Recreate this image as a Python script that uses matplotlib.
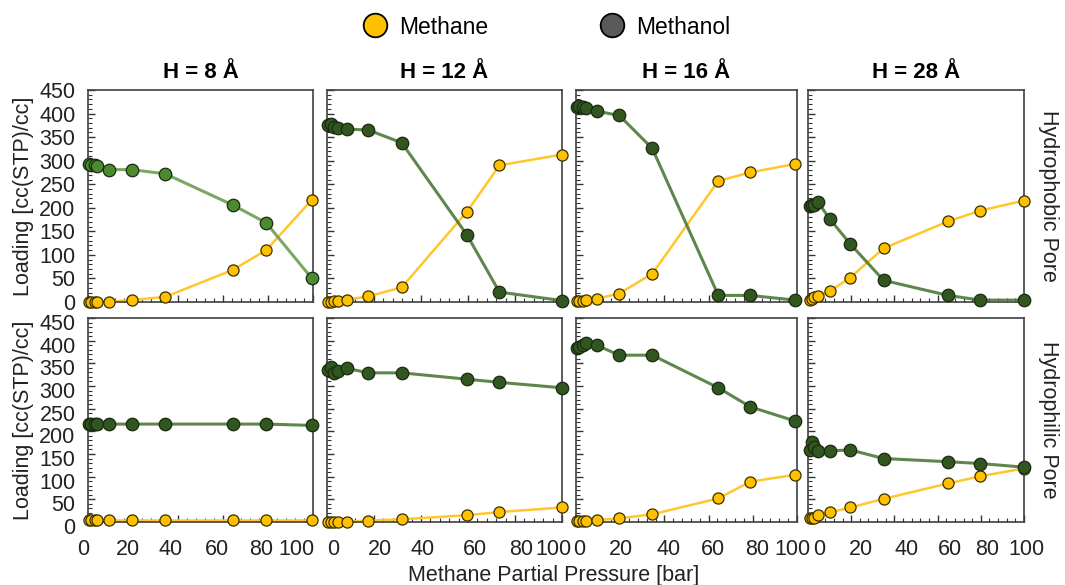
import numpy as np
import matplotlib.pyplot as plt
import matplotlib.transforms as mtransforms
from matplotlib.lines import Line2D
from matplotlib.ticker import MultipleLocator

plt.rcParams['font.family'] = ['Liberation Sans', 'DejaVu Sans']

titles = ['H = 8 Å', 'H = 12 Å', 'H = 16 Å', 'H = 28 Å']
rows = ['Hydrophobic Pore', 'Hydrophilic Pore']
xticks = [0, 20, 40, 60, 80, 100]

# pressures [bar], one list per pore width
p8 = [0.4, 1.5, 3, 4.2, 9.4, 19.4, 34.4, 64.3, 79.2, 99.5]
p12 = [0.4, 1.5, 3, 4.5, 8.4, 17.6, 31.8, 59.6, 73.4, 100]
p16 = [0.3, 1.5, 3, 4.5, 9.3, 19.6, 34.5, 64.4, 78.9, 99]
p28 = [1, 2, 3, 4.6, 10.1, 19.6, 35.0, 64.8, 79.8, 99.8]

# hydrophobic pore
phob_ch4 = [
    [0, 0, 0, 0, 1, 4, 11, 68, 110, 217],
    [0, 1, 2, 3, 5, 12, 31, 192, 290, 313],
    [2, 3, 3, 4, 7, 18, 60, 257, 275, 293],
    [5, 7, 10, 12, 23, 52, 114, 171, 194, 215],
]
phob_meoh = [
    [292, 291, 290, 289, 281, 281, 272, 206, 168, 50],
    [375, 378, 372, 370, 367, 365, 338, 142, 21, 3],
    [413, 417, 414, 411, 405, 396, 326, 14, 14, 4],
    [203, 206, 206, 212, 176, 123, 46, 14, 4, 4],
]

# hydrophilic pore
phil_ch4 = [
    [4, 4, 4, 4, 4, 4, 4, 4, 4, 4],
    [1, 1, 1, 1, 1, 3, 6, 15, 22, 32],
    [2, 2, 2, 2, 4, 8, 17, 52, 89, 104],
    [8, 8, 9, 15, 21, 32, 51, 85, 101, 118],
]
phil_meoh = [
    [216, 216, 216, 216, 216, 216, 216, 216, 216, 213],
    [335, 342, 329, 333, 339, 329, 329, 315, 308, 296],
    [383, 387, 390, 394, 390, 368, 368, 296, 254, 223],
    [159, 177, 166, 157, 157, 159, 140, 133, 129, 121],
]

pressures = [p8, p12, p16, p28]
ch4 = [phob_ch4, phil_ch4]
meoh = [phob_meoh, phil_meoh]

W, H = 1065, 585
fig = plt.figure(figsize=(W / 100, H / 100), dpi=100)

cols_px = [(88, 313), (327, 562), (576, 797), (808, 1024)]
rows_px = [(90, 302), (318, 522)]
# horizontal nudges (px) of the bottom tick labels, as in the original panels
lab_dx = [[-5, -5, -7, -6, -7, -17],
          [6, 6, 2, 7, 6, -9],
          [3, 1, 4, 4, 4, -5],
          [11, 10, 12, 12, 6, 2]]

yel = '#FFC000'
yel_line = '#FFC72C'
grn_face = ['#4B8A2E', '#31561F']
grn_line = ['#6E9E52', '#4E7A3A']

for r, (t, b) in enumerate(rows_px):
    for c, (l, rr) in enumerate(cols_px):
        ax = fig.add_axes([l / W, 1 - b / H, (rr - l) / W, (b - t) / H])
        x = pressures[c]
        gf = grn_face[0] if (r == 0 and c == 0) else grn_face[1]
        gl = grn_line[0] if (r == 0 and c == 0) else grn_line[1]
        ax.plot(x, ch4[r][c], '-', color=yel_line, lw=1.8, zorder=2, clip_on=False)
        ax.plot(x, ch4[r][c], 'o', ms=8, mfc=yel, mec='#3a3000', mew=0.9,
                zorder=3, clip_on=False)
        ax.plot(x, meoh[r][c], '-', color=gl, lw=2.2, alpha=0.9, zorder=4, clip_on=False)
        ax.plot(x, meoh[r][c], 'o', ms=9, mfc=gf, mec='#1a2a10', mew=0.9,
                zorder=5, clip_on=False)
        ax.set_xlim(0, 100)
        ax.set_ylim(0, 450)
        ax.xaxis.set_major_locator(MultipleLocator(20))
        ax.xaxis.set_minor_locator(MultipleLocator(4))
        ax.set_yticks(np.arange(0, 451, 50))
        ax.yaxis.set_minor_locator(MultipleLocator(10))
        ax.tick_params(which='major', direction='in', length=5, width=1, color='#333333',
                       labelsize=15.5, labelcolor='#222222')
        ax.tick_params(axis='y', pad=9)
        ax.tick_params(which='minor', direction='in', length=3, width=0.8, color='#333333')
        ax.tick_params(top=False, right=False, labelbottom=False)
        for s in ax.spines.values():
            s.set_color('#404040')
            s.set_linewidth(1.2)
        if c != 0:
            ax.tick_params(labelleft=False)
        else:
            ax.set_ylabel('Loading [cc(STP)/cc]', fontsize=15.5, color='#222222', labelpad=4)
            if r == 1:
                shift = mtransforms.ScaledTranslation(0, -4 / 100, fig.dpi_scale_trans)
                for lab in ax.get_yticklabels():
                    lab.set_transform(lab.get_transform() + shift)
        if r == 0:
            ax.set_title(titles[c], fontsize=16, fontweight='bold', pad=9)
        else:
            for v, dx in zip(xticks, lab_dx[c]):
                ax.annotate(str(v), xy=(v, 0), xycoords=ax.get_xaxis_transform(),
                            xytext=(dx * 0.72, -12.5), textcoords='offset points',
                            ha='center', va='top', fontsize=15.5, color='#222222')
        if c == 3:
            ax.text(1.065, 0.5, rows[r], transform=ax.transAxes, rotation=-90,
                    ha='left', va='center', fontsize=15.5, color='#222222')

fig.text(554 / W, 1 - 576 / H, 'Methane Partial Pressure [bar]', ha='center', va='center',
         fontsize=15.5, color='#222222')

handles = [
    Line2D([], [], ls='none', marker='o', ms=17, mfc=yel, mec='black', mew=1.3,
           label='Methane'),
    Line2D([], [], ls='none', marker='o', ms=17, mfc='#5a5a5a', mec='black', mew=1.3,
           label='Methanol'),
]
fig.legend(handles=handles, loc='center', bbox_to_anchor=(541 / W, 1 - 27 / H), ncol=2,
           frameon=False, fontsize=16.5, handletextpad=0.05, columnspacing=4.4)

plt.savefig('out.png', dpi=100)
